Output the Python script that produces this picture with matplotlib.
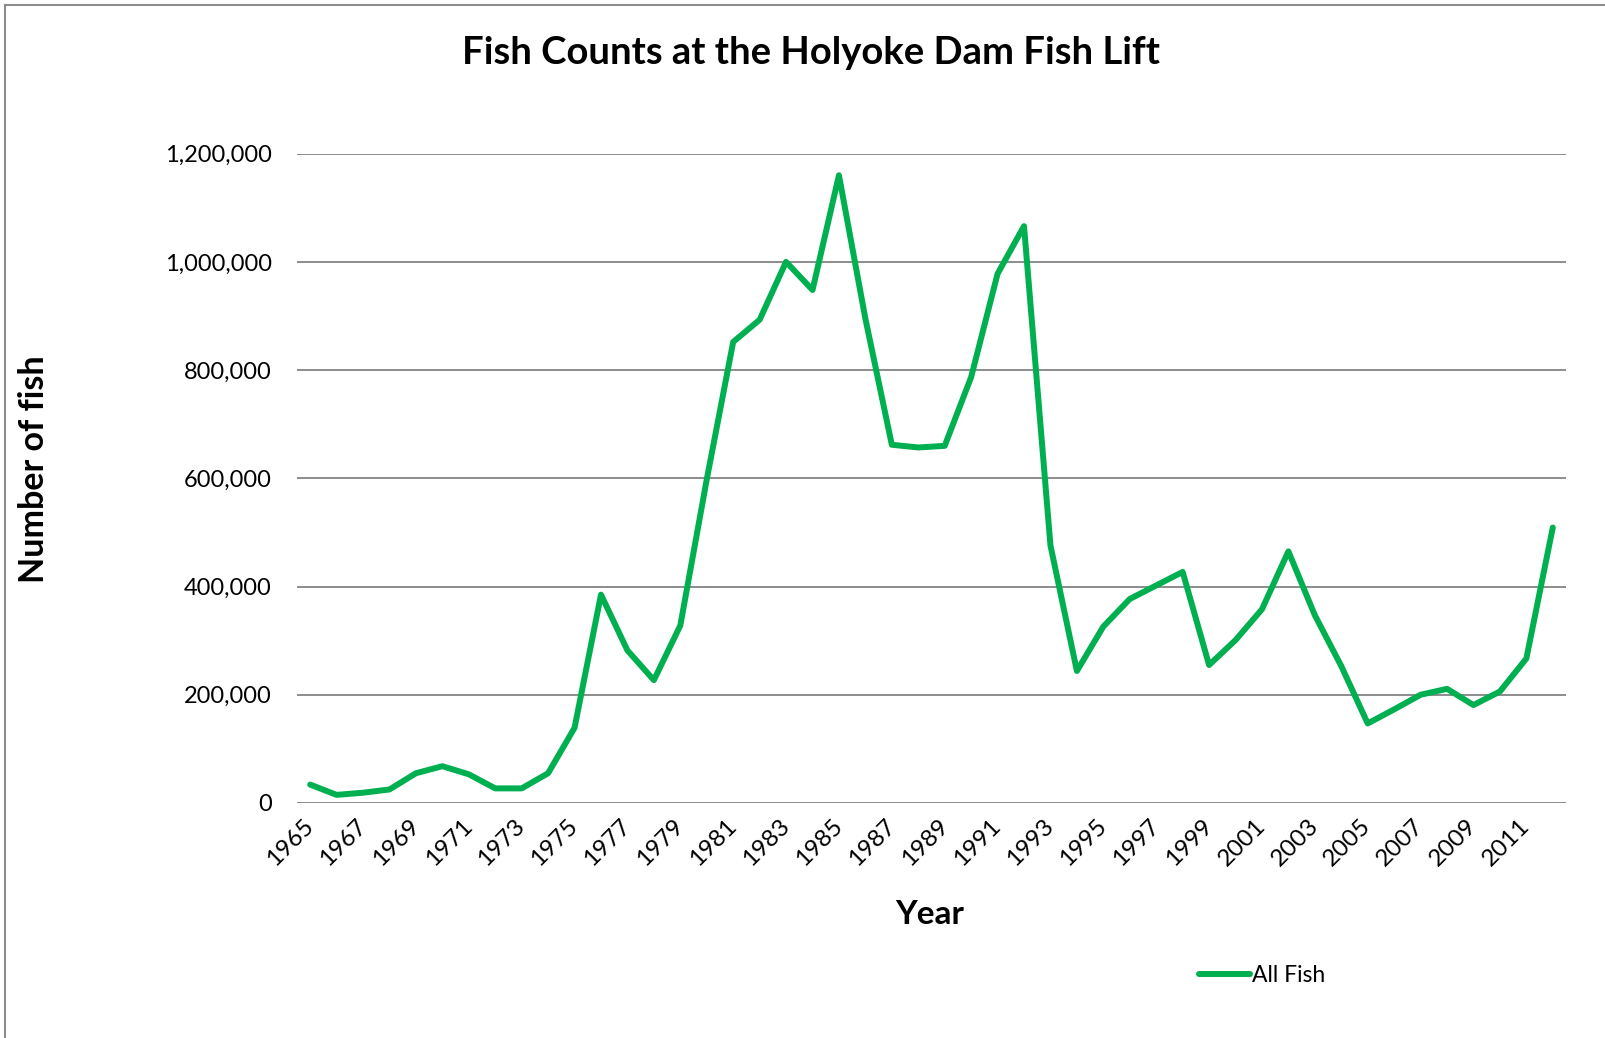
import numpy as np
import matplotlib
matplotlib.use("Agg")
import matplotlib.pyplot as plt
from matplotlib.lines import Line2D
from matplotlib.ticker import FuncFormatter

plt.rcParams['font.family'] = ['Lato', 'DejaVu Sans']

# data
years = list(range(1965, 2013))
all_fish = [34000, 15000, 19000, 25000, 55000, 68000, 53000, 27000, 27000, 55000,
            139000, 385000, 282000, 227000, 328000, 598000, 852000, 893000, 1000000, 948000,
            1160000, 895000, 662000, 657000, 660000, 787000, 978000, 1066000, 476000, 244000,
            326000, 377000, 402000, 427000, 255000, 301000, 358000, 465000, 347000, 253000,
            147000, 173000, 200000, 211000, 181000, 206000, 267000, 509000]
line_color = '#00B050'

fig = plt.figure(figsize=(16.06, 10.38), dpi=100)
ax = fig.add_axes([0.1849, 0.2264, 0.7902, 0.6256])

x = np.arange(len(years))
ax.plot(x, all_fish, color=line_color, lw=4.3, solid_joinstyle='round',
        solid_capstyle='round', label='All Fish')

ax.set_xlim(-0.5, len(years) - 0.5)
ax.set_ylim(0, 1200000)
ax.set_yticks(np.arange(0, 1200001, 200000))
ax.yaxis.set_major_formatter(FuncFormatter(lambda v, p: f'{int(v):,}'))
ax.grid(axis='y', color='#8c8c8c', lw=1.4)
ax.set_axisbelow(True)
for s in ax.spines.values():
    s.set_visible(False)
ax.tick_params(axis='both', length=0)
ax.tick_params(axis='y', pad=18, labelsize=17)

ax.set_xticks(x[::2])
ax.set_xticklabels([str(y) for y in years[::2]], rotation=45, ha='right',
                   rotation_mode='anchor', va='center')
ax.tick_params(axis='x', pad=14, labelsize=17.5)

fig.text(0.505, 0.949, 'Fish Counts at the Holyoke Dam Fish Lift', ha='center',
         va='center', fontsize=27.5, fontweight='bold')
fig.text(0.579, 0.119, 'Year', ha='center', va='center', fontsize=24, fontweight='bold')
fig.text(0.021, 0.548, 'Number of fish', ha='center', va='center', fontsize=24.5,
         fontweight='bold', rotation=90)

ax.legend(loc='center', bbox_to_anchor=(0.786, 0.06), bbox_transform=fig.transFigure,
          frameon=False, fontsize=16.5, handlelength=2.2, handletextpad=0.1)

# chart border (only top and left visible in the crop)
fig.add_artist(Line2D([0.0031, 0.0031], [0, 0.9952], transform=fig.transFigure,
                      color='#8c8c8c', lw=1.5))
fig.add_artist(Line2D([0.0031, 1.0], [0.9952, 0.9952], transform=fig.transFigure,
                      color='#8c8c8c', lw=1.5))

fig.savefig('out.png', dpi=100)
